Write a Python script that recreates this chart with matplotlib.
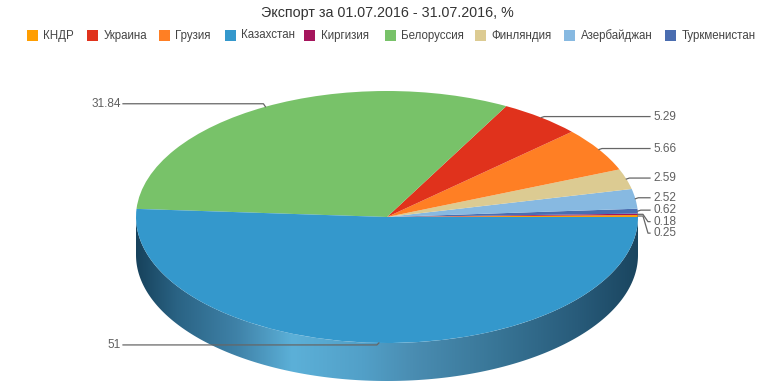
import numpy as np
import matplotlib.pyplot as plt
from matplotlib.patches import Polygon, Rectangle
from matplotlib.colors import LinearSegmentedColormap

plt.rcParams['font.family'] = ['Liberation Sans', 'DejaVu Sans']

# Данные (порядок легенды)
countries = ['КНДР', 'Украина', 'Грузия', 'Казахстан', 'Киргизия',
             'Белоруссия', 'Финляндия', 'Азербайджан', 'Туркменистан']
values = [0.25, 5.29, 5.66, 51, 0.18, 31.84, 2.59, 2.52, 0.62]
labels = ['0.25', '5.29', '5.66', '51', '0.18', '31.84', '2.59', '2.52', '0.62']
colors = ['#ff9e01', '#e0321c', '#ff7f24', '#3498cc', '#a5155c',
          '#78c269', '#dccb92', '#87b9e1', '#4a6db0']

# порядок секторов на круге (против часовой стрелки от 3 часов)
pie_order = [0, 4, 8, 7, 6, 2, 1, 5, 3]

W, H = 774, 387
cx, cy = 387, 217      # центр в пикселях
rx, ry = 251, 126      # полуоси эллипса
depth = 38 / ry        # толщина "3D" бока

fig = plt.figure(figsize=(W / 100, H / 100), dpi=100)
ax = fig.add_axes([0, 0, 1, 1])

# боковая стенка (передняя половина) с градиентом
th = np.linspace(np.pi, 2 * np.pi, 200)
top = np.column_stack([np.cos(th), np.sin(th)])
bot = np.column_stack([np.cos(th[::-1]), np.sin(th[::-1]) - depth])
side = Polygon(np.vstack([top, bot]), closed=True, facecolor='none', edgecolor='none')
ax.add_patch(side)
side_cmap = LinearSegmentedColormap.from_list('side', [
    (0.00, '#17425c'), (0.08, '#2a6384'), (0.20, '#3f82a8'),
    (0.31, '#5cb0d8'), (0.45, '#52a0c8'), (0.55, '#4a8db2'),
    (0.72, '#387596'), (0.88, '#285b7a'), (1.00, '#1a455f')])
grad = np.linspace(0, 1, 256).reshape(1, -1)
img = ax.imshow(grad, cmap=side_cmap, extent=(-1, 1, -1 - depth, 0),
                aspect='auto', zorder=1)
img.set_clip_path(side)

# верхняя поверхность
wedges, _ = ax.pie([values[i] for i in pie_order],
                   colors=[colors[i] for i in pie_order],
                   startangle=0, counterclock=True, radius=1,
                   wedgeprops=dict(linewidth=0))
for w in wedges:
    w.set_zorder(2)

ax.set_aspect('auto')
ax.set_xlim(-cx / rx, (W - cx) / rx)
ax.set_ylim(-(H - cy) / ry, cy / ry)
ax.axis('off')

# подписи с выносками (в пикселях)
ov = fig.add_axes([0, 0, 1, 1], facecolor='none')
ov.set_xlim(0, W)
ov.set_ylim(H, 0)
ov.axis('off')

right, left = [], []
for w, i in zip(wedges, pie_order):
    mid = np.deg2rad((w.theta1 + w.theta2) / 2)
    ex, ey = cx + rx * np.cos(mid), cy - ry * np.sin(mid)
    (right if np.cos(mid) > 0 else left).append((ey, ex, labels[i]))

right.sort()
last = -1e9
for ey, ex, lab in right:
    ly = max(ey - 1, last + 11.5)
    last = ly
    if ly - ey > 3:
        pts = [(ex, ey), (ex + 5, ey), (ex + 10, ly), (650, ly)]
    else:
        pts = [(ex, ey), (ex + 3, ly), (650, ly)]
    xs, ys = zip(*pts)
    ov.plot(xs, ys, color='#666666', lw=0.9)
    ov.text(653, ly, lab, ha='left', va='center', fontsize=8.5, color='#606060')

for ey, ex, lab in left:
    ly = ey - 3 if ey < cy else ey + 2
    ov.plot([ex, ex - 2, 123], [ey, ly, ly], color='#666666', lw=0.9)
    ov.text(121, ly, lab, ha='right', va='center', fontsize=8.5, color='#606060')

# заголовок
ov.text(W / 2, 13, 'Экспорт за 01.07.2016 - 31.07.2016, %', ha='center',
        va='center', fontsize=10.3, color='#333333')

# легенда
leg_x = [27, 87, 159, 225, 304, 385, 475, 564, 665]
for x, name, c in zip(leg_x, countries, colors):
    ov.add_patch(Rectangle((x, 30), 10.5, 10.5, facecolor=c, edgecolor='none'))
    ov.text(x + 16.5, 35.5, name, ha='left', va='center', fontsize=8.3, color='#444444')

fig.savefig('out.png', dpi=100)
